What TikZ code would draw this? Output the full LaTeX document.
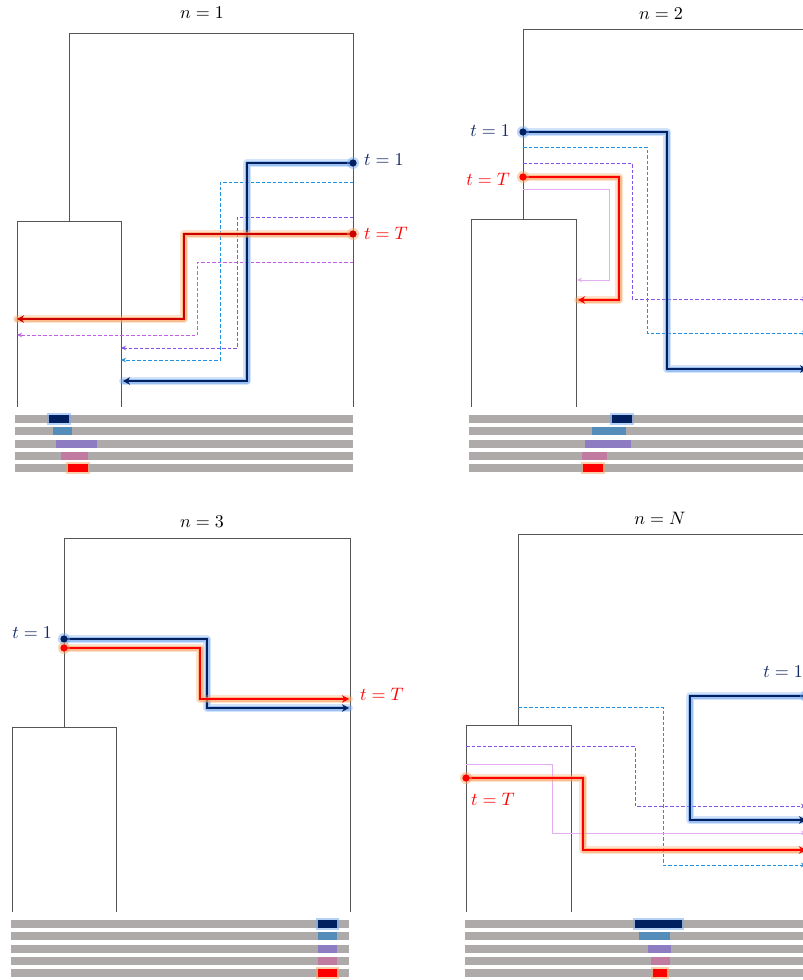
\documentclass[tikz,border=0pt]{standalone}
\usepackage{graphicx}
\usetikzlibrary{arrows.meta}
\definecolor{navy}{RGB}{0,32,96}
\definecolor{navytxt}{RGB}{20,40,100}
\definecolor{glowBc}{RGB}{110,165,240}
\definecolor{glowRc}{RGB}{250,160,90}
\definecolor{redA}{RGB}{255,0,0}
\definecolor{redD}{RGB}{205,0,0}
\definecolor{dblue}{RGB}{35,145,225}
\definecolor{dpurple}{RGB}{130,85,230}
\definecolor{orchid}{RGB}{195,95,230}
\definecolor{lorchid}{RGB}{228,175,242}
\definecolor{barg}{RGB}{174,170,170}
\definecolor{steel}{RGB}{84,141,186}
\definecolor{bpurple}{RGB}{142,124,195}
\definecolor{bpink}{RGB}{194,123,160}
\definecolor{treec}{RGB}{85,85,85}
\newcommand{\mlab}[1]{\scalebox{1.8}{$#1$}}
\newcommand{\glowline}[3]{%
  \draw[line width=8pt,draw=#1,opacity=0.3,line cap=round,line join=round] #3;
  \draw[line width=5pt,draw=#1,opacity=0.55,line cap=round,line join=round] #3;
  \draw[line width=2.4pt,draw=#2,line join=miter,-{Stealth[length=7pt,width=7.5pt]}] #3;}
\newcommand{\glowdot}[3]{%
  \fill[#1,opacity=0.45] #3 circle[radius=6pt];
  \fill[#2] #3 circle[radius=3.6pt];}
\tikzset{
  tree/.style={draw=treec,line width=0.9pt},
  dsh/.style={line width=1pt,dash pattern=on 3.5pt off 2pt,-{Stealth[length=5pt,width=4.5pt]}},
  thin/.style={line width=0.8pt,draw=lorchid,-{Stealth[length=5pt,width=4.5pt]}},
  lab/.style={inner sep=0pt},
}
\newcommand{\bars}[3]{% x0 x1 y0
  \foreach \k in {0,...,4} {\fill[barg] (#1,#3+12.3*\k-4) rectangle (#2,#3+12.3*\k+4);}}
\newcommand{\blk}[5]{% color x0 x1 y glowcolor(or n)
  \ifx#5n\else\draw[#5,line width=4pt,opacity=0.5] (#2,#4-4) rectangle (#3,#4+4);\fi
  \fill[#1] (#2,#4-4) rectangle (#3,#4+4);}
\begin{document}
\begin{tikzpicture}[x=1pt,y=-1pt]
\useasboundingbox (0,0) rectangle (803,980);
\fill[white] (0,0) rectangle (803,980);
\clip (0,0) rectangle (803,980);

%================ panel 1
\node[lab] (t1) at (202,13) {\mlab{n=1}};
\draw[tree] (69,221) -- (69,33) -- (353,33) -- (353,407);
\draw[tree] (17,407) -- (17,221) -- (121,221) -- (121,407);
\draw[dsh,dblue] (353,182) -| (220,360) -- (121,360);
\draw[dsh,dpurple] (353,217) -| (237,348) -- (121,348);
\draw[dsh,orchid] (353,262) -| (197,335) -- (17,335);
\glowline{glowBc}{navy}{(353,163) -| (247,381) -- (123,381)}
\glowline{glowRc}{redD}{(353,234) -| (184,319) -- (17,319)}
\glowdot{glowBc}{navy}{(353,163)}
\glowdot{glowRc}{redD}{(353,234)}
\node[lab,anchor=west,text=navytxt] (a1) at (364,160) {\mlab{t=1}};
\node[lab,anchor=west,text=redA] (b1) at (364,233) {\mlab{t=T}};
\bars{15}{353}{419}
\blk{navy}{49}{69}{419}{glowBc}
\blk{steel}{53}{72}{431.3}{n}
\blk{bpurple}{56}{97}{443.6}{n}
\blk{bpink}{61}{88}{455.9}{n}
\blk{redA}{68}{88}{468.2}{glowRc}

%================ panel 2
\node[lab] (t2) at (661,14) {\mlab{n=2}};
\draw[tree] (523,219) -- (523,29) -- (807,29) -- (807,407);
\draw[tree] (471,407) -- (471,219) -- (576,219) -- (576,407);
\draw[dsh,dblue] (523,147) -| (647,333) -- (807,333);
\draw[dsh,dpurple] (523,163) -| (632,299) -- (807,299);
\draw[thin] (523,189) -| (609,280) -- (577,280);
\glowline{glowBc}{navy}{(523,132) -| (667,369) -- (807,369)}
\glowline{glowRc}{redA}{(523,177) -| (619,300) -- (578,300)}
\glowdot{glowBc}{navy}{(523,132)}
\glowdot{glowRc}{redA}{(523,177)}
\node[lab,anchor=east,text=navytxt] (a2) at (510,131) {\mlab{t=1}};
\node[lab,anchor=east,text=redA] (b2) at (510,179) {\mlab{t=T}};
\bars{469}{810}{419}
\blk{navy}{612}{632}{419}{glowBc}
\blk{steel}{592}{626}{431.3}{n}
\blk{bpurple}{585}{631}{443.6}{n}
\blk{bpink}{582}{607}{455.9}{n}
\blk{redA}{583}{603}{468.2}{glowRc}

%================ panel 3
\node[lab] (t3) at (202,522) {\mlab{n=3}};
\draw[tree] (64,727) -- (64,538) -- (350,538) -- (350,912);
\draw[tree] (12,912) -- (12,727) -- (116,727) -- (116,912);
\glowline{glowBc}{navy}{(64,639) -| (207,708) -- (349,708)}
\glowline{glowRc}{redA}{(64,648) -| (200,699) -- (349,699)}
\glowdot{glowBc}{navy}{(64,639)}
\glowdot{glowRc}{redA}{(64,648)}
\node[lab,anchor=east,text=navytxt] (a3) at (52,633) {\mlab{t=1}};
\node[lab,anchor=west,text=redA] (b3) at (360,694) {\mlab{t=T}};
\bars{11}{349}{924}
\blk{navy}{318}{337}{924}{glowBc}
\blk{steel}{318}{337}{936.3}{n}
\blk{bpurple}{318}{337}{948.6}{n}
\blk{bpink}{318}{337}{960.9}{n}
\blk{redA}{318}{337}{973.2}{glowRc}

%================ panel 4
\node[lab] (t4) at (660,518) {\mlab{n=N}};
\draw[tree] (518,725) -- (518,534) -- (806,534) -- (806,912);
\draw[tree] (466,912) -- (466,725) -- (571,725) -- (571,912);
\draw[dsh,dblue] (518,707) -| (663,865) -- (806,865);
\draw[dsh,dpurple] (466,746) -| (635,806) -- (806,806);
\draw[thin] (466,764) -| (552,833) -- (806,833);
\glowline{glowBc}{navy}{(806,696) -| (690,820) -- (806,820)}
\glowline{glowRc}{redA}{(466,778) -| (583,850) -- (806,850)}
\glowdot{glowBc}{navy}{(806,696)}
\glowdot{glowRc}{redA}{(466,778)}
\node[lab,anchor=east,text=navytxt] (a4) at (803,672) {\mlab{t=1}};
\node[lab,text=redA] (b4) at (493,799) {\mlab{t=T}};
\bars{465}{810}{924}
\blk{navy}{635}{682}{924}{glowBc}
\blk{steel}{639}{670}{936.3}{n}
\blk{bpurple}{648}{671}{948.6}{n}
\blk{bpink}{651}{670}{960.9}{n}
\blk{redA}{653}{667}{973.2}{glowRc}
\end{tikzpicture}
\end{document}
